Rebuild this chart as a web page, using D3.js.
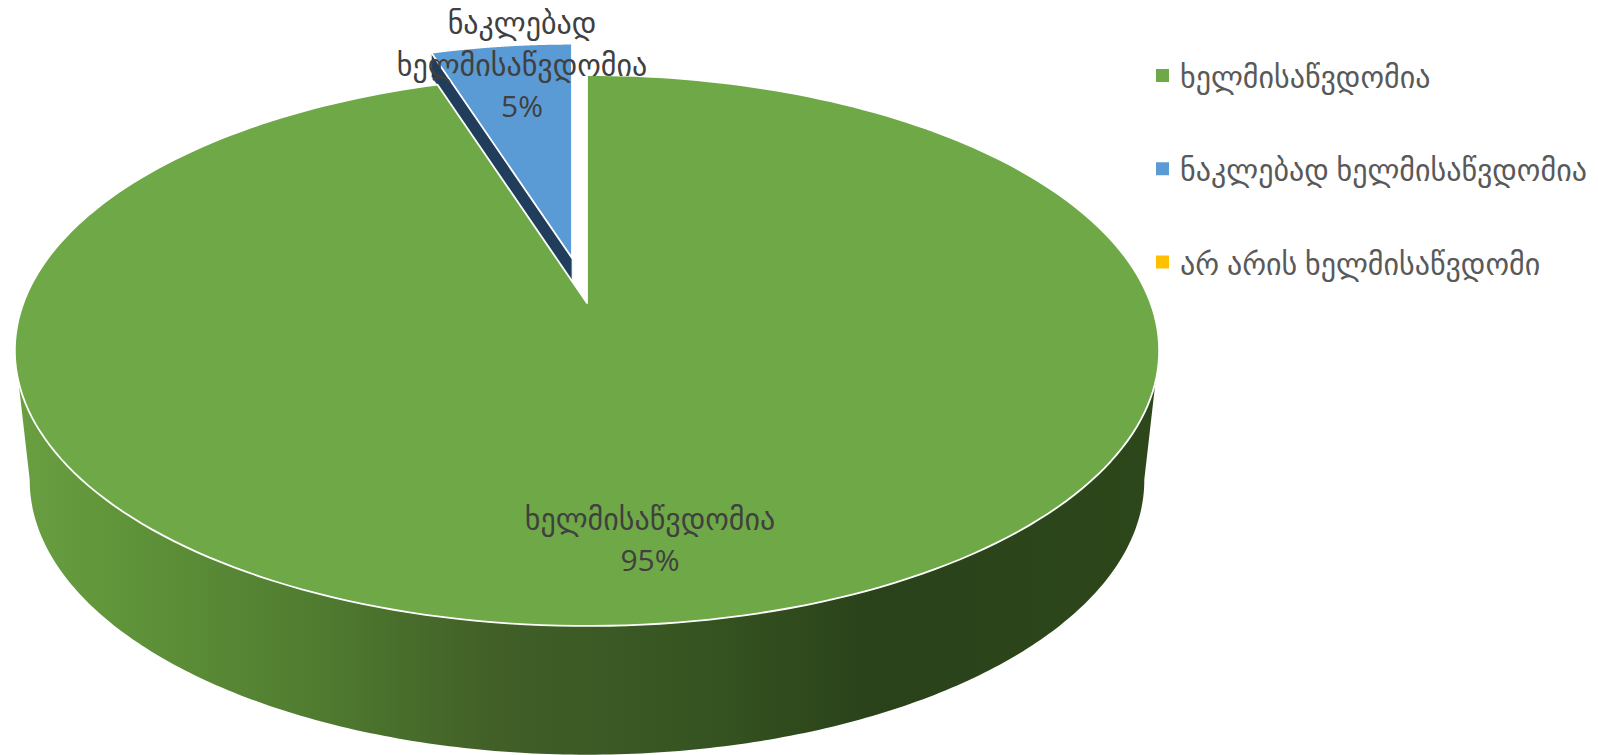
<!DOCTYPE html>
<html>
<head>
<meta charset="utf-8">
<script src="https://cdn.jsdelivr.net/npm/d3@7"></script>
<style>
html, body { margin: 0; padding: 0; background: #fff; overflow: hidden; }
text { font-family: "Open Sans", "DejaVu Sans", sans-serif; }
</style>
</head>
<body>
<script>
let categories = ["ხელმისაწვდომია", "ნაკლებად ხელმისაწვდომია", "არ არის ხელმისაწვდომი"];
let values = [95, 5, 0];
let colors = ["#6fa947", "#5b9bd5", "#ffc000"];

let width = 1598, height = 755;
let fontSize = 30;

// the pie is a tilted disc, so points go through a small perspective mapping
let k = -0.1724, depthY = 267.3, depthX = 563.6;
let topCenter = { x: 587, y: 303 };
let baseCenter = { x: 587, y: 433 };

function project(angle, center, s, sy) {
    let u = Math.sin(angle), v = -Math.cos(angle);
    let w = 1 + k * v;
    return [center.x + s * depthX * u / w, center.y + (sy || s) * depthY * v / w];
}

let svg = d3.select("body")
.append("svg")
.attr("width", width)
.attr("height", height)

let slices = d3.pie().sort(null).startAngle(0).endAngle(2 * Math.PI)(values);
let line = d3.line();

function samples(a, b) {
    let n = 240;
    return d3.range(n + 1).map(i => a + (b - a) * i / n);
}

// side wall of the big slice
let grad = svg.append("defs").append("linearGradient")
.attr("id", "side")
.attr("gradientUnits", "userSpaceOnUse")
.attr("x1", 15).attr("x2", 1160).attr("y1", 0).attr("y2", 0)
let stops = [[0, "#699f41"], [0.1, "#5f9339"], [0.26, "#507c30"], [0.42, "#415f27"], [0.6, "#365421"], [0.75, "#2a421a"], [1, "#2d471b"]];
grad.selectAll("stop").data(stops).join("stop")
.attr("offset", d => d[0])
.attr("stop-color", d => d[1])

let frontStart = 99.8 * Math.PI / 180, frontEnd = 260.2 * Math.PI / 180;
let wallTop = samples(frontStart, frontEnd).map(a => project(a, topCenter, 1));
let wallBase = samples(frontEnd, frontStart).map(a => project(a, baseCenter, 0.974, 0.996));
svg.append("path")
.attr("d", line(wallTop.concat(wallBase)) + "Z")
.attr("fill", "url(#side)")

// exploded small slice: inner wall, then top
let small = slices[1];
let smallCenter = { x: 572, y: 258 };
let smallBase = { x: 572, y: 282 };
let smallScale = 0.94;
svg.append("path")
.attr("d", line([
    project(small.startAngle, smallCenter, 0),
    project(small.startAngle, smallCenter, smallScale),
    project(small.startAngle, smallBase, smallScale),
    project(small.startAngle, smallBase, 0),
]) + "Z")
.attr("fill", "#203d5b")
.attr("stroke", "#dfe6ee")
.attr("stroke-width", 0.8)

svg.selectAll("path.top").data(slices.filter(d => d.value > 0)).join("path")
.attr("class", "top")
.attr("d", (d, i) => {
    let c = i == 0 ? topCenter : smallCenter;
    let s = i == 0 ? 1 : smallScale;
    let pts = samples(d.startAngle, d.endAngle).map(a => project(a, c, s));
    pts.push([c.x, c.y]);
    return line(pts) + "Z";
})
.attr("fill", (d, i) => colors[i])
.attr("stroke", "#fff")
.attr("stroke-width", 1.8)
.attr("stroke-linejoin", "round")

// data labels
let fmt = d => d + "%";
let labels = [
    { lines: [categories[0], fmt(values[0])], x: 650, y: 530, dy: 41 },
    { lines: ["ნაკლებად", "ხელმისაწვდომია", fmt(values[1])], x: 522, y: 34, dy: 41.5 },
];
labels.forEach(l => {
    svg.append("g").selectAll("text").data(l.lines).join("text")
    .attr("x", l.x)
    .attr("y", (d, i) => l.y + i * l.dy)
    .attr("text-anchor", "middle")
    .attr("font-size", fontSize)
    .attr("fill", "#404040")
    .text(d => d)
})

// legend
let legendY = d3.scalePoint().domain(categories).range([75.5, 262]);
let legend = svg.append("g").selectAll("g").data(categories).join("g")
.attr("transform", d => `translate(1156,${legendY(d)})`)
legend.append("rect")
.attr("x", 0).attr("y", -6.5).attr("width", 13).attr("height", 13)
.attr("fill", (d, i) => colors[i])
legend.append("text")
.attr("x", 24)
.attr("y", 12.5)
.attr("font-size", fontSize)
.attr("fill", "#595959")
.text(d => d)
</script>
</body>
</html>
